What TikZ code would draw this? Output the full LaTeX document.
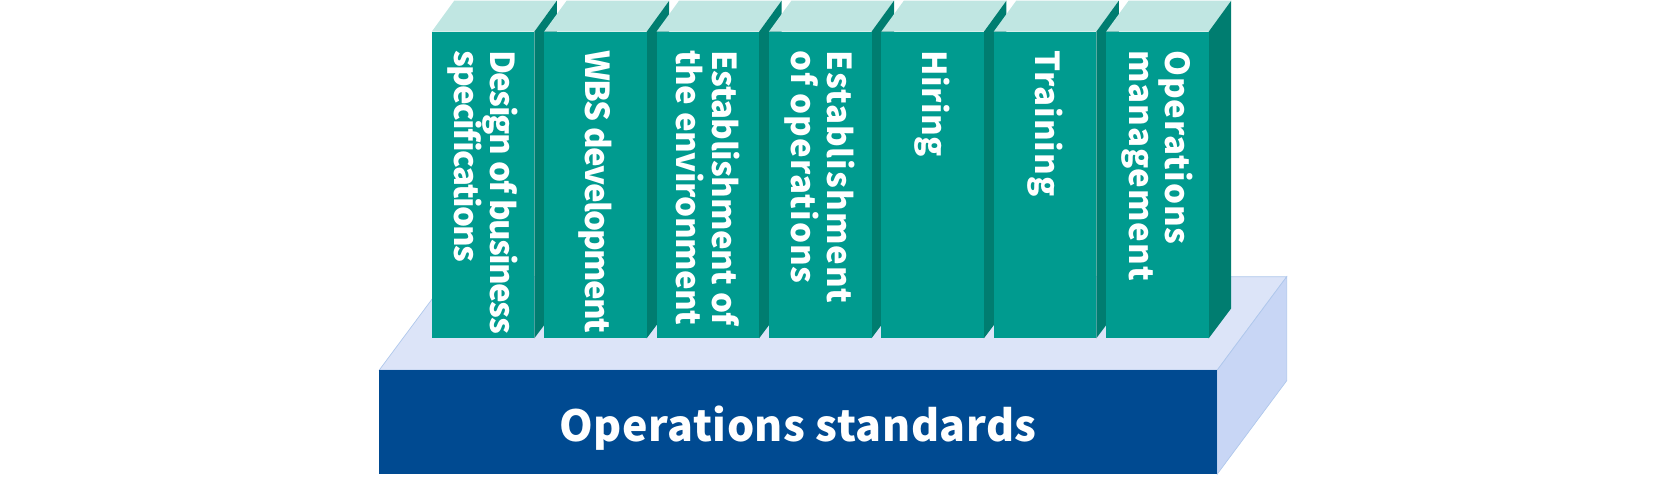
\documentclass[tikz,border=0pt]{standalone}
\usepackage{fontspec}
\newfontfamily\labelfont{Noto Sans CJK JP}
\definecolor{bookfront}{RGB}{0,155,143}
\definecolor{bookside}{RGB}{0,125,112}
\definecolor{booktop}{RGB}{192,230,226}
\definecolor{basefront}{RGB}{0,74,145}
\definecolor{basetop}{RGB}{220,228,248}
\definecolor{baseside}{RGB}{200,214,245}
\definecolor{baseedge}{RGB}{176,200,236}
\tikzset{
  booklabel/.style={rotate=-90, anchor=west, inner sep=0pt, align=left, text=white,
    font={\labelfont\bfseries\fontsize{18.8pt}{20.4pt}\selectfont\addfontfeature{LetterSpace=#1}}},
  baselabel/.style={anchor=base, inner sep=0pt, text=white,
    font={\labelfont\bfseries\fontsize{24.4pt}{28pt}\selectfont\addfontfeature{LetterSpace=1.2}}}
}
\begin{document}
\begin{tikzpicture}[x=0.02cm,y=-0.02cm]
    \useasboundingbox (0,0) rectangle (1664,477);

    % Define base corners
    \coordinate (FL) at (379.3,370);
    \coordinate (FR) at (1217.3,370);
    \coordinate (BL) at (379.3,474);
    \coordinate (BR) at (1217.3,474);
    \coordinate (TL) at (448.7,276.7);
    \coordinate (TR) at (1286.7,276.7);
    \coordinate (SR) at (1286.7,380.7);

    % Draw base
    \fill[basetop, draw=baseedge, line width=0.4pt] (FL) -- (FR) -- (TR) -- (TL) -- cycle;
    \fill[baseside, draw=baseedge, line width=0.4pt] (FR) -- (TR) -- (SR) -- (BR) -- cycle;
    \fill[basefront] (FL) rectangle (BR);
    \node[baselabel] (std) at (798.3,441.3) {Operations standards};

    % Draw books
    \foreach \txt/\ls [count=\i from 0] in {{Design of business\\specifications}/-5,
        {WBS development}/-5, {Establishment of\\the environment}/-1.7,
        {Establishment\\of operations}/3, {Hiring}/1.2, {Training}/3.3,
        {Operations\\management}/2.8}
    {
        \pgfmathsetmacro{\L}{431.7+112.4*\i}
        \fill[booktop] (\L,31.7) -- (\L+102.6,31.7) -- (\L+125.1,0.7) -- (\L+22.5,0.7) -- cycle;
        \fill[bookside] (\L+102.6,31.7) -- (\L+125.1,0.7) -- (\L+125.1,308.3) -- (\L+102.6,338.3) -- cycle;
        \fill[bookfront] (\L,31.7) rectangle (\L+102.6,338.3);
        \node[booklabel=\ls] (book\i) at (\L+51.3,50) {\txt};
    }
\end{tikzpicture}
\end{document}
